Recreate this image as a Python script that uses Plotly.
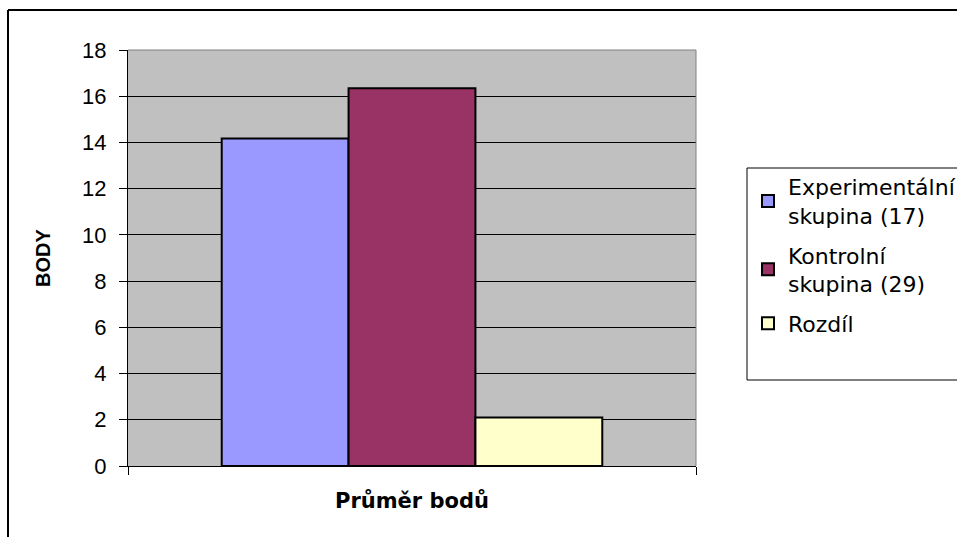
import plotly.graph_objects as go

# Average score per group
category = ["Průměr bodů"]
series_names = ["Experimentální<br>skupina (17)", "Kontrolní<br>skupina (29)", "Rozdíl"]
series_values = [14.17, 16.35, 2.1]
series_colors = ["#9999FF", "#993366", "#FFFFCC"]
y_ticks = [0, 2, 4, 6, 8, 10, 12, 14, 16, 18]

W, H = 957, 537
L, R, T, B = 128, 261, 50, 71
pw, ph = W - L - R, H - T - B

fig = go.Figure()
for name, val, col in zip(series_names, series_values, series_colors):
    fig.add_trace(go.Bar(
        x=category, y=[val], name=name, legendgroup=name,
        marker=dict(color=col, line=dict(color="#000000", width=2)),
        hoverinfo="y+name",
    ))

def px_x(x):
    return (x - L) / pw

def px_y(y):
    return (H - B - y) / ph

font = "Liberation Sans, Arial, sans-serif"
wide_font = "DejaVu Sans, Verdana, sans-serif"

fig.update_layout(
    width=W, height=H,
    margin=dict(l=L, r=R, t=T, b=B, autoexpand=False),
    paper_bgcolor="#FFFFFF",
    plot_bgcolor="#C0C0C0",
    barmode="group",
    bargap=0.33,
    bargroupgap=0,
    font=dict(family=font, size=22, color="#000000"),
    showlegend=True,
    legend=dict(
        x=px_x(748), xanchor="left",
        y=px_y(166), yanchor="top",
        bgcolor="rgba(0,0,0,0)",
        borderwidth=0,
        font=dict(family=wide_font, size=22, color="#000000"),
        traceorder="grouped",
        tracegroupgap=8,
    ),
    xaxis=dict(
        showticklabels=False,
        tickson="boundaries",
        ticks="outside", ticklen=8, tickcolor="#000000",
        showline=True, linecolor="#000000", linewidth=1,
        showgrid=False,
        title=dict(text="<b>Průměr bodů</b>",
                   font=dict(family=wide_font, size=21), standoff=27),
    ),
    yaxis=dict(
        range=[0, 18],
        tickvals=y_ticks,
        tickfont=dict(family=font, size=22),
        ticks="outside", ticklen=8, tickcolor="#000000",
        ticklabelstandoff=8,
        showline=True, linecolor="#000000", linewidth=1,
        showgrid=True, gridcolor="#000000", gridwidth=1,
        zeroline=False,
        title=dict(text="<b>BODY</b>", font=dict(family=font, size=20), standoff=26),
    ),
    shapes=[
        # top and right edges of the plot area
        dict(type="line", xref="paper", yref="paper", x0=0, x1=1, y0=1, y1=1,
             line=dict(color="#808080", width=1), layer="above"),
        dict(type="line", xref="paper", yref="paper", x0=1, x1=1, y0=0, y1=1,
             line=dict(color="#808080", width=1), layer="above"),
        # outer chart frame
        dict(type="line", xref="paper", yref="paper",
             x0=px_x(8), x1=px_x(W + 5), y0=px_y(10), y1=px_y(10),
             line=dict(color="#000000", width=2)),
        dict(type="line", xref="paper", yref="paper",
             x0=px_x(8), x1=px_x(8), y0=px_y(10), y1=px_y(H + 5),
             line=dict(color="#000000", width=2)),
        # legend frame
        dict(type="rect", xref="paper", yref="paper",
             x0=px_x(747), x1=px_x(W + 5), y0=px_y(168), y1=px_y(380),
             line=dict(color="#000000", width=1)),
    ],
)

fig.write_html("out.html")
